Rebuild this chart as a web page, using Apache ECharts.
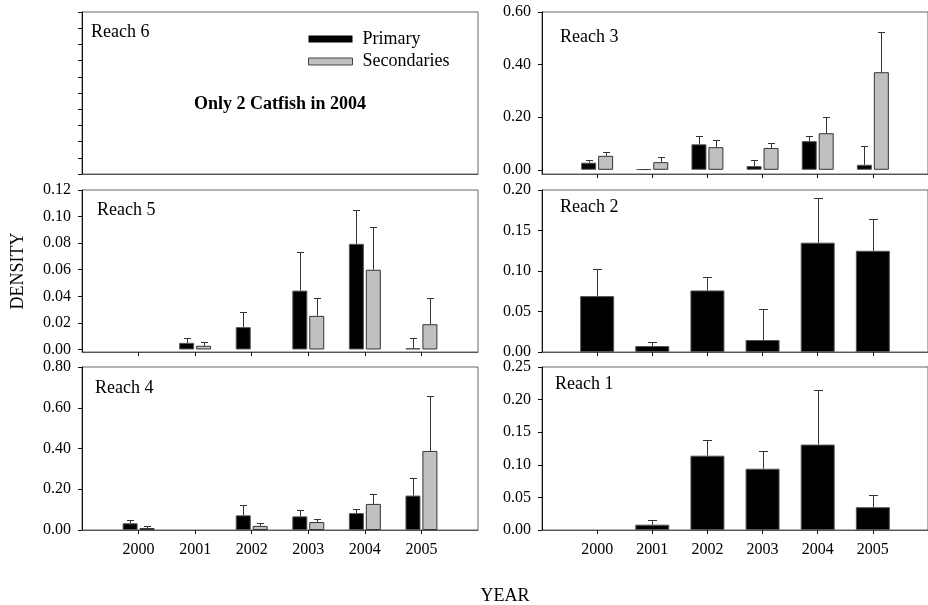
<!DOCTYPE html>
<html><head><meta charset="utf-8">
<script src="https://cdn.jsdelivr.net/npm/echarts@6/dist/echarts.min.js"></script>
<style>html,body{margin:0;padding:0;background:#fff}#c{width:928px;height:605px}</style>
</head><body><div id="c"></div>
<script>
const years = [2000, 2001, 2002, 2003, 2004, 2005];

// Reach 3
const r3Primary = [0.027, 0.002, 0.097, 0.014, 0.109, 0.019];
const r3PrimarySE = [0.011, 0.001, 0.033, 0.023, 0.019, 0.073];
const r3Second = [0.053, 0.029, 0.086, 0.083, 0.139, 0.371];
const r3SecondSE = [0.016, 0.018, 0.026, 0.018, 0.061, 0.154];
// Reach 5
const r5Primary = [null, 0.005, 0.0168, 0.0443, 0.0795, 0.001];
const r5PrimarySE = [null, 0.0033, 0.0115, 0.029, 0.0255, 0.008];
const r5Second = [null, 0.0028, null, 0.0253, 0.060, 0.019];
const r5SecondSE = [null, 0.0027, null, 0.0137, 0.032, 0.0198];
// Reach 2
const r2Primary = [0.069, 0.0074, 0.076, 0.0148, 0.135, 0.125];
const r2PrimarySE = [0.033, 0.0046, 0.016, 0.038, 0.0556, 0.039];
// Reach 4
const r4Primary = [0.033, null, 0.072, 0.067, 0.083, 0.169];
const r4PrimarySE = [0.016, null, 0.049, 0.031, 0.020, 0.086];
const r4Second = [0.010, null, 0.020, 0.039, 0.128, 0.388];
const r4SecondSE = [0.008, null, 0.013, 0.013, 0.049, 0.270];
// Reach 1
const r1Primary = [null, 0.0082, 0.114, 0.094, 0.131, 0.035];
const r1PrimarySE = [null, 0.0076, 0.024, 0.027, 0.084, 0.018];

// y tick labels per panel
const r3Ticks = [0, 0.2, 0.4, 0.6];
const r5Ticks = [0, 0.02, 0.04, 0.06, 0.08, 0.10, 0.12];
const r2Ticks = [0, 0.05, 0.10, 0.15, 0.20];
const r4Ticks = [0, 0.2, 0.4, 0.6, 0.8];
const r1Ticks = [0, 0.05, 0.10, 0.15, 0.20, 0.25];
const r6Ticks = [0, 1, 2, 3, 4, 5, 6, 7, 8, 9, 10];

const FONT = '"Liberation Serif", "Times New Roman", serif';
const chart = echarts.init(document.getElementById('c'));

const grids = [
  {left: 82, right: 450, top: 12, height: 162},   // 0 Reach 6
  {left: 542, right: -10, top: 12, height: 162},  // 1 Reach 3
  {left: 82, right: 450, top: 190, height: 162},  // 2 Reach 5
  {left: 542, right: -10, top: 190, height: 162}, // 3 Reach 2
  {left: 82, right: 450, top: 367, height: 163},  // 4 Reach 4
  {left: 542, right: -10, top: 367, height: 163}  // 5 Reach 1
].map(g => Object.assign({show: true, borderColor: '#666', borderWidth: 1, backgroundColor: 'transparent'}, g));

function xAxis(i, labels, ticks) {
  return {
    type: 'value', gridIndex: i, min: 1999, max: 2006,
    axisLine: {show: true, onZero: false, lineStyle: {color: '#555', width: 1}},
    axisTick: {show: ticks, length: 4, inside: false, customValues: years, lineStyle: {color: '#111'}},
    axisLabel: {show: labels, customValues: years, margin: 12, color: '#000', fontFamily: FONT, fontSize: 16,
      formatter: v => String(v)},
    splitLine: {show: false}
  };
}
function yAxis(i, min, max, tickVals, labels, dec) {
  return {
    type: 'value', gridIndex: i, min: min, max: max,
    axisLine: {show: true, lineStyle: {color: '#111', width: 1}},
    axisTick: {show: true, length: 4, customValues: tickVals, lineStyle: {color: '#111'}},
    axisLabel: {show: labels, customValues: tickVals, margin: 11, color: '#000', fontFamily: FONT, fontSize: 16,
      formatter: v => v.toFixed(dec)},
    splitLine: {show: false}
  };
}

const xAxes = [
  xAxis(0, false, false), xAxis(1, false, true), xAxis(2, false, true),
  xAxis(3, false, true), xAxis(4, true, true), xAxis(5, true, true)
];
const yAxes = [
  yAxis(0, 0, 10, r6Ticks, false, 0),
  yAxis(1, -0.016, 0.6, r3Ticks, true, 2),
  yAxis(2, -0.0019, 0.12, r5Ticks, true, 2),
  yAxis(3, 0, 0.2, r2Ticks, true, 2),
  yAxis(4, 0, 0.8, r4Ticks, true, 2),
  yAxis(5, 0, 0.25, r1Ticks, true, 2)
];

const primaryStyle = {color: '#000', borderColor: '#555', borderWidth: 1};
const secondStyle = {color: '#c0c0c0', borderColor: '#333', borderWidth: 1};

function pairs(vals) { return years.map((y, k) => vals[k] == null ? null : [y, vals[k]]); }
function triples(vals, se) {
  return years.map((y, k) => vals[k] == null ? null : [y, vals[k], se[k]]).filter(d => d);
}
function barSeries(name, i, vals, style, width) {
  return {type: 'bar', name: name, xAxisIndex: i, yAxisIndex: i, data: pairs(vals).filter(d => d),
    barWidth: width, barGap: '13%', itemStyle: style, silent: true, animation: false};
}
function errSeries(i, vals, se, off, cap) {
  return {type: 'custom', xAxisIndex: i, yAxisIndex: i, data: triples(vals, se), silent: true, animation: false,
    z: 3,
    renderItem: function (params, api) {
      const x = api.value(0), v = api.value(1), e = api.value(2);
      const p0 = api.coord([x, v]);
      const p1 = api.coord([x, v + e]);
      const cx = Math.round(p0[0] + off) + 0.5;
      const ty = Math.round(p1[1]) + 0.5;
      const st = {stroke: '#333', lineWidth: 1};
      return {type: 'group', children: [
        {type: 'line', shape: {x1: cx, y1: p0[1], x2: cx, y2: ty}, style: st},
        {type: 'line', shape: {x1: cx - cap, y1: ty, x2: cx + cap, y2: ty}, style: st}
      ]};
    }};
}

const PW = 15, OFF = 8.5, SW = 34;
const series = [
  // Reach 3
  barSeries('Primary', 1, r3Primary, primaryStyle, PW),
  barSeries('Secondaries', 1, r3Second, secondStyle, PW),
  errSeries(1, r3Primary, r3PrimarySE, -OFF, 3.5),
  errSeries(1, r3Second, r3SecondSE, OFF, 3.5),
  // Reach 5
  barSeries('Primary', 2, r5Primary, primaryStyle, PW),
  barSeries('Secondaries', 2, r5Second, secondStyle, PW),
  errSeries(2, r5Primary, r5PrimarySE, -OFF, 3.5),
  errSeries(2, r5Second, r5SecondSE, OFF, 3.5),
  // Reach 2
  barSeries('Primary', 3, r2Primary, primaryStyle, SW),
  errSeries(3, r2Primary, r2PrimarySE, 0, 4.5),
  // Reach 4
  barSeries('Primary', 4, r4Primary, primaryStyle, PW),
  barSeries('Secondaries', 4, r4Second, secondStyle, PW),
  errSeries(4, r4Primary, r4PrimarySE, -OFF, 3.5),
  errSeries(4, r4Second, r4SecondSE, OFF, 3.5),
  // Reach 1
  barSeries('Primary', 5, r1Primary, primaryStyle, SW),
  errSeries(5, r1Primary, r1PrimarySE, 0, 4.5)
];

function label(text, x, y, extra) {
  return Object.assign({type: 'text', x: x, y: y, z: 10,
    style: {text: text, fontFamily: FONT, fontSize: 18, fill: '#000', textVerticalAlign: 'middle', verticalAlign: 'middle'}}, extra || {});
}

chart.setOption({
  animation: false,
  backgroundColor: '#fff',
  grid: grids,
  xAxis: xAxes,
  yAxis: yAxes,
  series: series,
  legend: {
    data: [
      {name: 'Primary', itemStyle: {color: '#000', borderColor: '#000', borderWidth: 0}},
      {name: 'Secondaries', itemStyle: {color: '#c0c0c0', borderColor: '#444', borderWidth: 1}}
    ],
    orient: 'vertical', left: 308, top: 30,
    itemWidth: 44, itemHeight: 7, itemGap: 4.5, padding: 0, selectedMode: false, icon: 'rect',
    textStyle: {fontFamily: FONT, fontSize: 18, color: '#000', padding: [0, 0, 0, 5]}
  },
  graphic: [
    label('Reach 6', 91, 32),
    label('Reach 3', 560, 37),
    label('Reach 5', 97, 210),
    label('Reach 2', 560, 207),
    label('Reach 4', 95, 388),
    label('Reach 1', 555, 384),
    {type: 'text', x: 280, y: 104, z: 10, style: {text: 'Only 2 Catfish in 2004', fontFamily: FONT, fontSize: 18,
      fontWeight: 'bold', fill: '#000', align: 'center', verticalAlign: 'middle'}},
    {type: 'text', x: 505, y: 596, z: 10, style: {text: 'YEAR', fontFamily: FONT, fontSize: 18, fill: '#000',
      align: 'center', verticalAlign: 'middle'}},
    {type: 'text', x: 18, y: 271, rotation: Math.PI / 2, z: 10, style: {text: 'DENSITY', fontFamily: FONT, fontSize: 18,
      fill: '#000', align: 'center', verticalAlign: 'middle'}}
  ]
});
</script></body></html>
